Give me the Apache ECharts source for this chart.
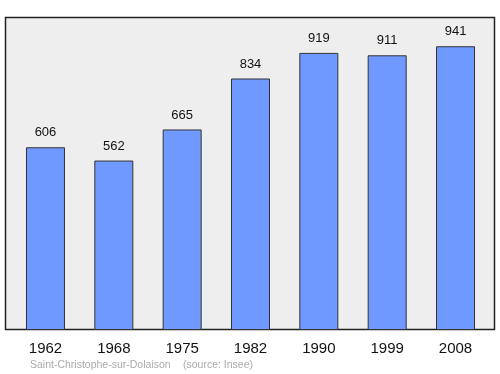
<!DOCTYPE html>
<html><head><meta charset="utf-8">
<script src="https://cdn.jsdelivr.net/npm/echarts@6/dist/echarts.min.js"></script>
<style>html,body{margin:0;padding:0;background:#fff}#c{width:500px;height:374px}</style>
</head><body><div id="c"></div>
<script>
var years = ['1962','1968','1975','1982','1990','1999','2008'];
var population = [606, 562, 665, 834, 919, 911, 941];
var footerName = 'Saint-Christophe-sur-Dolaison';
var footerSource = '(source: Insee)';

var chart = echarts.init(document.getElementById('c'), null, {renderer:'canvas'});
chart.setOption({
  animation: false,
  backgroundColor: '#ffffff',
  graphic: [
    {type:'rect', z:-1, shape:{x:5.5, y:17.5, width:489, height:312},
     style:{fill:'#eeeeee', stroke:'#222', lineWidth:1.5}},
    {type:'text', left:30, top:360, style:{text:footerName, fill:'#aaaaaa', font:'10.5px "Liberation Sans", Arial, sans-serif'}},
    {type:'text', left:183, top:360, style:{text:footerSource, fill:'#aaaaaa', font:'10.5px "Liberation Sans", Arial, sans-serif'}}
  ],
  grid: {left:11.3, right:10.3, top:17, bottom:44},
  xAxis: {
    type:'category', data: years,
    axisLine:{show:false}, axisTick:{show:false},
    axisLabel:{color:'#111', fontSize:15, margin:11, fontFamily:'"Liberation Sans", Arial, sans-serif'}
  },
  yAxis: {type:'value', min:0, max:1038, show:false, splitLine:{show:false}},
  series: [{
    type:'bar', data: population, barWidth:39,
    itemStyle:{color:'#7099ff', borderColor:'#333', borderWidth:1},
    label:{show:true, position:'top', distance:8, color:'#111', fontSize:13,
      fontFamily:'"Liberation Sans", Arial, sans-serif'}
  }]
});
</script></body></html>
